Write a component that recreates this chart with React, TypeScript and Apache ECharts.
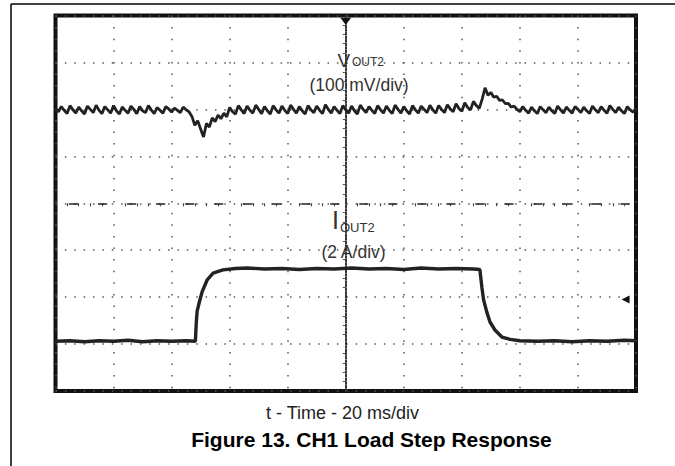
import React, { useEffect, useRef } from "react";
import * as echarts from "echarts";

// Oscilloscope capture: time in ms relative to trigger (20 ms/div), vertical in screen divisions
const timeMin = -100;
const timeMax = 100;
const timeDiv = 20;
const divMin = -4;
const divMax = 4;

// VOUT2 trace (100 mV/div), one sample per ms starting at -100 ms
const voutStep = 1;
const voutDiv = [
  2.02, 1.95, 2.06, 1.98, 1.91, 2.08, 1.99, 1.92, 2.05, 1.97,
  1.90, 2.07, 2.00, 1.93, 2.09, 1.98, 1.91, 2.06, 1.99, 1.92,
  2.08, 1.97, 1.90, 2.05, 1.98, 1.92, 2.07, 2.00, 1.91, 2.06,
  1.97, 1.93, 2.08, 1.99, 1.91, 2.04, 1.98, 1.92, 2.06, 2.01,
  1.94, 2.03, 1.98, 1.93, 2.05, 1.99, 1.95, 1.85, 1.66, 1.76,
  1.58, 1.41, 1.70, 1.62, 1.82, 1.74, 1.88, 1.80, 1.92, 1.84,
  2.04, 1.95, 1.90, 2.08, 1.99, 1.91, 2.07, 1.98, 1.92, 2.09,
  2.00, 1.91, 2.06, 1.97, 1.90, 2.08, 1.99, 1.92, 2.07, 1.98,
  1.91, 2.09, 2.00, 1.92, 2.06, 1.97, 1.90, 2.08, 1.99, 1.93,
  2.07, 1.98, 1.91, 2.10, 2.00, 1.92, 2.06, 1.98, 1.91, 2.08,
  1.99, 1.92, 2.07, 1.97, 1.90, 2.09, 2.00, 1.93, 2.06, 1.98,
  1.91, 2.08, 1.99, 1.92, 2.07, 1.98, 1.91, 2.09, 2.00, 1.92,
  2.06, 1.97, 1.90, 2.08, 1.99, 1.92, 2.07, 2.00, 1.93, 2.09,
  1.99, 1.92, 2.08, 2.00, 1.93, 2.10, 2.01, 1.95, 2.12, 2.02,
  1.96, 2.14, 2.04, 1.99, 2.17, 2.08, 2.02, 2.22, 2.46, 2.30,
  2.36, 2.26, 2.28, 2.19, 2.20, 2.12, 2.13, 2.05, 2.07, 2.00,
  1.95, 2.06, 1.98, 1.92, 2.05, 1.97, 1.91, 2.06, 1.99, 1.93,
  2.05, 1.97, 1.91, 2.07, 1.99, 1.92, 2.05, 1.98, 1.92, 2.06,
  2.00, 1.93, 2.05, 1.97, 1.91, 2.07, 1.99, 1.93, 2.06, 1.98,
  1.92, 2.08, 2.00, 1.93, 2.05, 1.97, 1.91, 2.06, 1.99, 1.94,
  2.02,
];

// IOUT2 trace (2 A/div)
const ioutTime = [
  -100, -95, -90, -85, -80, -75, -70, -65, -60, -55,
  -51.8, -51.5, -51.2, -50.5, -49.5, -47.8, -45.7, -42.3, -38, -34,
  -28, -22, -16, -10, -4, 2, 8, 14, 20, 26,
  32, 38, 44, 46.2, 46.9, 47.5, 48.6, 49.7, 51.4, 53.8,
  56.6, 60, 66, 72, 78, 84, 90, 96, 100,
];
const ioutDiv = [
  -2.94, -2.93, -2.95, -2.93, -2.94, -2.92, -2.95, -2.93, -2.94, -2.93,
  -2.94, -2.55, -2.30, -2.12, -1.89, -1.64, -1.49, -1.42, -1.39, -1.38,
  -1.40, -1.39, -1.41, -1.39, -1.40, -1.38, -1.40, -1.39, -1.41, -1.38,
  -1.40, -1.39, -1.40, -1.41, -1.79, -2.06, -2.32, -2.53, -2.70, -2.85,
  -2.90, -2.93, -2.94, -2.93, -2.95, -2.93, -2.94, -2.92, -2.93,
];

// Scope markers: trigger position (top) and trigger level (right)
const triggerPos = [0, 3.88];
const triggerLevel = [96.4, -2.05];

const FONT = 'Arial, "Liberation Sans", Helvetica, sans-serif';

export default function App() {
  const ref = useRef<HTMLDivElement>(null);

  useEffect(() => {
    if (!ref.current) return;
    const chart = echarts.init(ref.current, undefined, { renderer: "svg" });

    const voutData = voutDiv.map((v, i) => [timeMin + i * voutStep, v]);
    const ioutData = ioutTime.map((t, i) => [t, ioutDiv[i]]);

    chart.setOption({
      animation: false,
      backgroundColor: "#ffffff",
      grid: {
        left: 55.5,
        right: 39,
        top: 15.5,
        bottom: 75,
        show: true,
        borderColor: "#111",
        borderWidth: 4,
        backgroundColor: "transparent",
      },
      xAxis: {
        type: "value",
        min: timeMin,
        max: timeMax,
        interval: timeDiv,
        axisLine: {
          show: true,
          onZero: true,
          lineStyle: { color: "#222", width: 1.6, type: [8, 21.03], dashOffset: 15 },
        },
        axisTick: { show: false },
        minorTick: { show: true, splitNumber: 5, length: 3, lineStyle: { color: "#444", width: 1.2 } },
        axisLabel: { show: false },
        splitLine: { show: true, lineStyle: { color: "#555", width: 1.5, type: [1.5, 10.1] } },
      },
      yAxis: {
        type: "value",
        min: divMin,
        max: divMax,
        interval: 1,
        axisLine: {
          show: true,
          onZero: true,
          lineStyle: { color: "#333", width: 2, type: [1.8, 1.8] },
        },
        axisTick: { show: false },
        minorTick: { show: true, splitNumber: 5, length: 3, lineStyle: { color: "#555", width: 1 } },
        axisLabel: { show: false },
        splitLine: { show: true, lineStyle: { color: "#555", width: 1.5, type: [1.5, 7.88] } },
      },
      series: [
        {
          name: "VOUT2",
          type: "line",
          data: voutData,
          showSymbol: false,
          silent: true,
          lineStyle: { color: "#222", width: 2.8 },
        },
        {
          name: "IOUT2",
          type: "line",
          data: ioutData,
          showSymbol: false,
          silent: true,
          lineStyle: { color: "#222", width: 3.4 },
          markPoint: {
            silent: true,
            label: { show: false },
            itemStyle: { color: "#111" },
            data: [
              { coord: triggerPos, symbol: "triangle", symbolRotate: 180, symbolSize: [11, 7] },
              { coord: triggerLevel, symbol: "triangle", symbolRotate: 90, symbolSize: [8, 8] },
            ],
          },
        },
      ],
      graphic: [
        { type: "line", shape: { x1: 11, y1: 4, x2: 675, y2: 4 }, style: { stroke: "#000", lineWidth: 1.5 } },
        { type: "line", shape: { x1: 11, y1: 4, x2: 11, y2: 466 }, style: { stroke: "#000", lineWidth: 1.5 } },
        {
          type: "text", x: 337.5, y: 60,
          style: { text: "V", font: `19px ${FONT}`, fill: "#333", textAlign: "left", textVerticalAlign: "middle" },
        },
        {
          type: "text", x: 352, y: 62,
          style: { text: "OUT2", font: `12px ${FONT}`, fill: "#333", textAlign: "left", textVerticalAlign: "middle" },
        },
        {
          type: "text", x: 359, y: 85,
          style: { text: "(100 mV/div)", font: `17.5px ${FONT}`, fill: "#333", textAlign: "center", textVerticalAlign: "middle" },
        },
        {
          type: "text", x: 332, y: 219.5,
          style: { text: "I", font: `25px ${FONT}`, fill: "#333", textAlign: "left", textVerticalAlign: "middle" },
        },
        {
          type: "text", x: 340, y: 227,
          style: { text: "OUT2", font: `13px ${FONT}`, fill: "#333", textAlign: "left", textVerticalAlign: "middle" },
        },
        {
          type: "text", x: 353.5, y: 252,
          style: { text: "(2 A/div)", font: `17.5px ${FONT}`, fill: "#333", textAlign: "center", textVerticalAlign: "middle" },
        },
        {
          type: "text", x: 342.5, y: 413,
          style: { text: "t - Time - 20 ms/div", font: `18px ${FONT}`, fill: "#222", textAlign: "center", textVerticalAlign: "middle" },
        },
        {
          type: "text", x: 371.5, y: 439,
          style: { text: "Figure 13. CH1 Load Step Response", font: `bold 21px ${FONT}`, fill: "#000", textAlign: "center", textVerticalAlign: "middle" },
        },
      ],
    });

    return () => chart.dispose();
  }, []);

  return (
    <div
      ref={ref}
      style={{ position: "fixed", left: 0, top: 0, width: 675, height: 466, background: "#fff" }}
    />
  );
}
